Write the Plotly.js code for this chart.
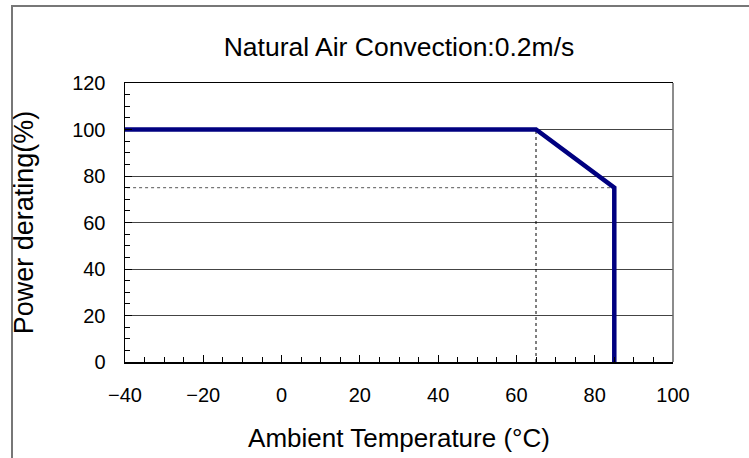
<!DOCTYPE html>
<html>
<head>
<meta charset="utf-8">
<script src="https://cdn.plot.ly/plotly-3.0.1.min.js"></script>
<style>html,body{margin:0;padding:0;background:#fff;}#chart{width:749px;height:458px;}</style>
</head>
<body>
<div id="chart"></div>
<script>
// Derating curve
const temperature = [-40, 65, 85, 85];
const powerPct = [100, 100, 75, 0];
// Reference guides (dotted)
const guideVX = [65, 65];
const guideVY = [0, 100];
const guideHX = [-41, 85];
const guideHY = [75, 75];
const xTicks = [-40, -20, 0, 20, 40, 60, 80, 100];
const yTicks = [0, 20, 40, 60, 80, 100, 120];

const font = "Liberation Sans, Arial, sans-serif";

const traces = [
  {x: guideVX, y: guideVY, mode: 'lines', line: {color: '#000', width: 1, dash: 'dot'}, hoverinfo: 'skip', cliponaxis: false},
  {x: guideHX, y: guideHY, mode: 'lines', line: {color: '#777', width: 1.3, dash: 'dot'}, hoverinfo: 'skip', cliponaxis: false},
  {x: temperature, y: powerPct, mode: 'lines', line: {color: '#000080', width: 4.5}, cliponaxis: false}
];

const layout = {
  width: 749, height: 458,
  margin: {l: 125, r: 76, t: 83, b: 96},
  paper_bgcolor: '#fff', plot_bgcolor: '#fff',
  showlegend: false,
  font: {family: font, color: '#000', size: 20},
  title: {text: 'Natural Air Convection:0.2m/s', font: {family: font, size: 26.5, color: '#000'}, xref: 'paper', x: 0.5, xanchor: 'center', y: 1 - 47/458, yanchor: 'middle'},
  xaxis: {
    range: [-40, 100], tickvals: xTicks, ticktext: xTicks.map(v => v < 0 ? '\u2212' + Math.abs(v) : String(v)),
    showgrid: false, zeroline: false,
    showline: true, linecolor: '#000', linewidth: 1.5, mirror: true,
    ticks: 'inside', ticklen: 7, tickcolor: '#000', tickwidth: 1,
    minor: {dtick: 5, tick0: 0, ticks: 'inside', ticklen: 5, tickcolor: '#000', showgrid: false},
    tickfont: {size: 20}, ticklabelstandoff: 14,
    title: {text: 'Ambient Temperature (°C)', font: {size: 26}, standoff: 24}
  },
  yaxis: {
    range: [0, 120], tickvals: yTicks,
    showgrid: true, gridcolor: '#444', gridwidth: 1,
    zeroline: false,
    showline: true, linecolor: '#000', linewidth: 1.5,
    ticks: 'inside', ticklen: 7, tickcolor: '#000', tickwidth: 1,
    minor: {dtick: 5, tick0: 0, ticks: 'inside', ticklen: 5, tickcolor: '#000', showgrid: false},
    tickfont: {size: 20}, ticklabelstandoff: 14,
    title: {text: 'Power derating(%)', font: {size: 27}, standoff: 30}
  },
  shapes: [
    {type: 'line', xref: 'paper', yref: 'paper', x0: 1, x1: 1, y0: 0, y1: 1, line: {color: '#666', width: 1.5}},
    {type: 'rect', xref: 'paper', yref: 'paper', x0: -(125-12)/548, x1: (760-125)/548, y0: -(470-362)/279, y1: (362-6)/279, line: {color: '#777', width: 2}, layer: 'below'}
  ]
};

Plotly.newPlot('chart', traces, layout, {displayModeBar: false, staticPlot: true});
</script>
</body>
</html>
